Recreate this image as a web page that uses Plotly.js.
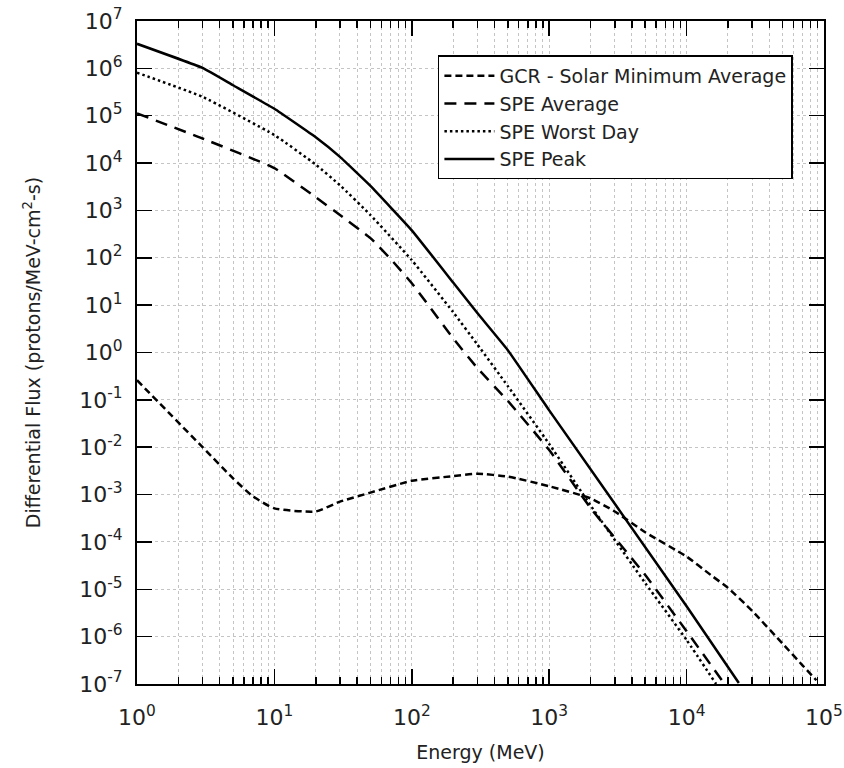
<!DOCTYPE html>
<html><head><meta charset="utf-8">
<script src="https://cdn.plot.ly/plotly-3.0.1.min.js"></script>
<style>html,body{margin:0;padding:0;background:#fff}</style>
</head><body><div id="chart" style="width:844px;height:768px"></div>
<script>
// GCR - Solar Minimum Average
const gcrEnergy = [1, 3, 5, 7, 10, 20, 30, 50, 100, 200, 300, 500, 1000, 2000, 3000, 5000, 10000, 15000, 20000, 30000, 50000, 70000, 88000];
const gcrFlux   = [0.26, 0.01, 2.2e-3, 9.1e-4, 5.1e-4, 4.4e-4, 7.1e-4, 1.1e-3, 1.95e-3, 2.45e-3, 2.75e-3, 2.4e-3, 1.5e-3, 8.3e-4, 4.4e-4, 1.6e-4, 4.9e-5, 2.0e-5, 1.07e-5, 3.5e-6, 7.1e-7, 2.45e-7, 1.2e-7];
// SPE Average
const avgEnergy = [1, 3, 10, 20, 30, 50, 70, 100, 200, 300, 500, 1000, 2000, 5000, 10000, 18900];
const avgFlux   = [1.12e5, 3.3e4, 7.8e3, 1.9e3, 800, 260, 95, 29, 2.0, 0.47, 0.095, 8.7e-3, 5.2e-4, 2.0e-5, 1.3e-6, 1.0e-7];
// SPE Worst Day
const worstEnergy = [1, 3, 10, 20, 30, 50, 100, 200, 300, 500, 1000, 2000, 5000, 10000, 16400];
const worstFlux   = [8.1e5, 2.5e5, 3.9e4, 9.3e3, 3.4e3, 800, 89, 7.1, 1.48, 0.195, 0.0117, 5.9e-4, 1.35e-5, 8.5e-7, 1.0e-7];
// SPE Peak
const peakEnergy = [1, 3, 5, 10, 20, 30, 50, 100, 200, 300, 500, 1000, 10000, 24000];
const peakFlux   = [3.3e6, 1.02e6, 4.4e5, 1.4e5, 3.5e4, 1.35e4, 3.3e3, 380, 30, 6.8, 1.12, 0.06, 4.4e-6, 1.05e-7];

const seriesNames = ['GCR - Solar Minimum Average', 'SPE Average', 'SPE Worst Day', 'SPE Peak'];

const xTickVals = [1, 10, 100, 1000, 10000, 100000];
const xTickText = ['10<sup>0</sup>', '10<sup>1</sup>', '10<sup>2</sup>', '10<sup>3</sup>', '10<sup>4</sup>', '10<sup>5</sup>'];
const yTickVals = [1e-7, 1e-6, 1e-5, 1e-4, 1e-3, 1e-2, 1e-1, 1, 10, 100, 1e3, 1e4, 1e5, 1e6, 1e7];
const yTickText = ['10<sup>-7</sup>', '10<sup>-6</sup>', '10<sup>-5</sup>', '10<sup>-4</sup>', '10<sup>-3</sup>', '10<sup>-2</sup>', '10<sup>-1</sup>',
  '10<sup>0</sup>', '10<sup>1</sup>', '10<sup>2</sup>', '10<sup>3</sup>', '10<sup>4</sup>', '10<sup>5</sup>', '10<sup>6</sup>', '10<sup>7</sup>'];

const xMinorVals = [];
for (const d of [1, 10, 100, 1000, 10000]) for (let m = 2; m <= 9; m++) xMinorVals.push(m * d);

const FONT = 'DejaVu Sans, sans-serif';
const GRID = '#c4c4c4';

const traces = [
  {x: gcrEnergy, y: gcrFlux, name: seriesNames[0], mode: 'lines', line: {color: '#000', width: 2.5, dash: '7px,4px', shape: 'spline', smoothing: 0.5}},
  {x: avgEnergy, y: avgFlux, name: seriesNames[1], mode: 'lines', line: {color: '#000', width: 2.5, dash: '12px,8px', shape: 'spline', smoothing: 0.4}},
  {x: worstEnergy, y: worstFlux, name: seriesNames[2], mode: 'lines', line: {color: '#000', width: 2.5, dash: '2.5px,3px', shape: 'spline', smoothing: 0.4}},
  {x: peakEnergy, y: peakFlux, name: seriesNames[3], mode: 'lines', line: {color: '#000', width: 2.5, shape: 'spline', smoothing: 0.3}}
];

const axisCommon = {
  type: 'log', tickmode: 'array', ticks: 'inside', ticklen: 15, tickwidth: 1.5, tickcolor: '#000',
  showline: true, linecolor: '#000', linewidth: 2, mirror: 'ticks',
  showgrid: true, gridcolor: GRID, griddash: 'dot', gridwidth: 1, zeroline: false,
  tickfont: {family: FONT, size: 22, color: '#222'}
};

const layout = {
  width: 844, height: 768,
  margin: {l: 137, r: 20, t: 21, b: 84},
  paper_bgcolor: '#fff', plot_bgcolor: '#fff',
  font: {family: FONT, color: '#222'},
  showlegend: true,
  xaxis: Object.assign({}, axisCommon, {
    range: [0, 5], tickvals: xTickVals, ticktext: xTickText, ticklabelstandoff: 13,
    title: {text: 'Energy (MeV)', font: {family: FONT, size: 19, color: '#222'}, standoff: 16},
    minor: {tickmode: 'array', tickvals: xMinorVals, ticks: 'inside', ticklen: 7, tickwidth: 1.5, tickcolor: '#000',
            showgrid: true, gridcolor: GRID, griddash: 'dot', gridwidth: 1}
  }),
  yaxis: Object.assign({}, axisCommon, {
    range: [-7, 7], tickvals: yTickVals, ticktext: yTickText, ticklabelstandoff: 8,
    title: {text: 'Differential Flux (protons/MeV-cm<sup>2</sup>-s)', font: {family: FONT, size: 19, color: '#222'}, standoff: 34}
  }),
  legend: {
    x: 0.438, y: 0.948, xanchor: 'left', yanchor: 'top', itemwidth: 50,
    bgcolor: '#fff', bordercolor: '#000', borderwidth: 1.5,
    font: {family: FONT, size: 19, color: '#222'}, tracegroupgap: 0
  }
};

Plotly.newPlot('chart', traces, layout, {displayModeBar: false, staticPlot: true});
</script>
</body></html>
